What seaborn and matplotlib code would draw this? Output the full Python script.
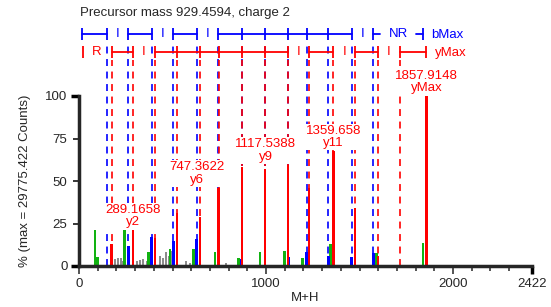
import numpy as np
import pandas as pd
import matplotlib
matplotlib.use("Agg")
import matplotlib.pyplot as plt
import seaborn as sns

# ---- data (m/z, % of max) ----
# b ions (blue)
b_mz = [148.1, 263.6, 388.8, 504.3, 629.4, 744.9, 870.1, 994.7, 1119.3, 1217.6, 1333.2, 1458.3, 1573.8]
b_pct = [0, 12, 17, 15, 16, 0, 4, 0, 5.5, 8, 6, 5.5, 7.5]
b_start = 17
b_max = 1839.9
b_gaps = ["", "I", "", "I", "", "I", "", "", "", "", "", "", "I", "NR"]

# y ions (red)
y_mz = [175.12, 289.1658, 406.4, 524.0, 647.0, 747.3622, 871.7, 994.7, 1117.5388,
        1230.0, 1359.658, 1476.0, 1599.0, 1716.6, 1857.9148]
y_pct = [13, 21, 16.5, 31, 29, 46, 58, 57, 59.5, 46, 67.5, 34, 6, 0, 100]
y_start = 19
y_gaps = ["R", "", "I", "", "", "", "", "", "", "I", "", "I", "", "I", ""]

# other matched peaks (green)
g_mz = [85.6, 101, 242, 370.6, 486.6, 611, 727, 852, 968, 1100, 1196, 1346, 1590, 1839.5]
g_pct = [21, 5.5, 21, 8.5, 10, 10, 8.5, 5, 8.5, 9, 5, 13, 7.5, 13.5]

# unmatched peaks (gray)
n_mz = [192.5, 208.6, 224.6, 235, 310, 326, 342, 363.6, 433, 449, 465, 481, 497, 572, 593, 786]
n_pct = [4, 5, 5, 3, 3, 3.5, 4, 3, 6, 5, 8, 6, 9, 3, 2, 2]

# labelled peaks
lab_ion = ["y2", "y6", "y9", "y11", "yMax"]
lab_text = ["289.1658", "747.3622", "1117.5388", "1359.658", "1857.9148"]
lab_mz = [289.1658, 747.3622, 1117.5388, 1359.658, 1857.9148]
lab_pct = [21, 46, 59.5, 67.5, 100]

BLUE, RED, GREEN, GRAY = "#0000ff", "#ff0000", "#12b212", "#8c8c8c"

sns.set_style("ticks")
plt.rcParams["font.family"] = ["Liberation Sans", "DejaVu Sans"]
plt.rcParams["lines.scale_dashes"] = False

fig = plt.figure(figsize=(5.51, 3.07), dpi=100)
ax = fig.add_axes([79 / 551, 41 / 307, 453 / 551, 266 / 307])


def sticks(mz, pct, color, width_da):
    d = pd.DataFrame({"mz": mz, "pct": pct})
    step = np.diff(np.unique(d["mz"])).min()
    sns.barplot(data=d, x="mz", y="pct", native_scale=True, orient="x",
                width=width_da / step, color=color, saturation=1,
                errorbar=None, linewidth=0, edgecolor=color, ax=ax)


# dashed guides for b and y ions
ax.vlines(b_mz, 0, 131, colors=BLUE, lw=1.2, linestyles=(0, (5, 4)), zorder=0.8)
ax.vlines(y_mz[:-1], 0, 121, colors=RED, lw=1.2, linestyles=(0, (5, 4)), zorder=0.8)

sticks(n_mz, n_pct, GRAY, 10)
sticks(g_mz, g_pct, GREEN, 15)
sticks(b_mz, b_pct, BLUE, 15)
sticks(y_mz, y_pct, RED, 15)

white = dict(facecolor="white", edgecolor="none", pad=0.8)


def ladder(points, gaps, y, color, end_label):
    for i in range(len(points) - 1):
        a, b = points[i], points[i + 1]
        if gaps[i] == "":
            ax.plot([a, b], [y, y], color=color, lw=1.3)
        else:
            ax.text((a + b) / 2, y, gaps[i], color=color, ha="center", va="center",
                    fontsize=9.5, bbox=white, zorder=4)
            stub = ((b - a) - 195) / 2
            if stub > 0:
                ax.plot([a, a + stub], [y, y], color=color, lw=1.3)
                ax.plot([b - stub, b], [y, y], color=color, lw=1.3)
    ax.vlines(points, y - 3.4, y + 3.4, colors=color, lw=1.3)
    ax.text(points[-1] + 45, y - 0.8, end_label, color=color, ha="left",
            va="center", fontsize=9.5)


ladder([b_start] + b_mz + [b_max], b_gaps, 136.5, BLUE, "bMax")
ladder([y_start] + y_mz, y_gaps, 126.0, RED, "yMax")

# peak labels (two of them sit left of their peak in the reference)
lab_dx = {"y6": -115, "y9": -120}
for ion, txt, mz, pct in zip(lab_ion, lab_text, lab_mz, lab_pct):
    ax.text(mz + lab_dx.get(ion, 0), pct + 1.2, txt + "\n" + ion, color=RED,
            ha="center", va="bottom", fontsize=9.5, linespacing=1.05,
            bbox=white, zorder=4)

# axes styling
ax.set_xlim(0, 2422)
ax.set_ylim(0, 266 / 1.7)
ax.set_xlabel("")
ax.set_ylabel("")
for s in ["top", "right"]:
    ax.spines[s].set_visible(False)
ax.spines["left"].set_bounds(0, 100)
ax.spines["bottom"].set_bounds(0, 2422)
ax.spines["left"].set_linewidth(2.5)
ax.spines["bottom"].set_linewidth(2.5)

ax.set_yticks([0, 25, 50, 75, 100])
ax.set_yticklabels(["0", "25", "50", "75", "100"])
ax.set_xticks([0, 1000, 2000, 2422])
ax.set_xticklabels(["0", "1000", "2000", "2422"])
ax.set_xticks([m for m in range(100, 2400, 100) if m % 1000], minor=True)
ax.tick_params(axis="y", length=4.3, width=1.3, pad=4, labelsize=9.5)
ax.tick_params(axis="x", which="major", length=5.5, width=1.1, pad=3, labelsize=9.5)
ax.tick_params(axis="x", which="minor", length=3.5, width=1.1)

# thick end caps of the axis frame
ax.plot([-42, 0], [100, 100], color="black", lw=2.5, clip_on=False, solid_capstyle="butt")
ax.plot([-42, 0], [0, 0], color="black", lw=2.5, clip_on=False, solid_capstyle="butt")
ax.plot([2422, 2422], [0, -4.7], color="black", lw=2.5, clip_on=False, solid_capstyle="butt")

fig.text(80 / 551, 1 - 13 / 307, "Precursor mass 929.4594, charge 2",
         ha="left", va="center", fontsize=9.5)
fig.text(25 / 551, 1 - 181 / 307, "% (max = 29775.422 Counts)", rotation=90,
         ha="center", va="center", fontsize=9.5)
fig.text(305 / 551, 1 - 298 / 307, "M+H", ha="center", va="center", fontsize=9.5)

fig.savefig("out.png", dpi=100)
